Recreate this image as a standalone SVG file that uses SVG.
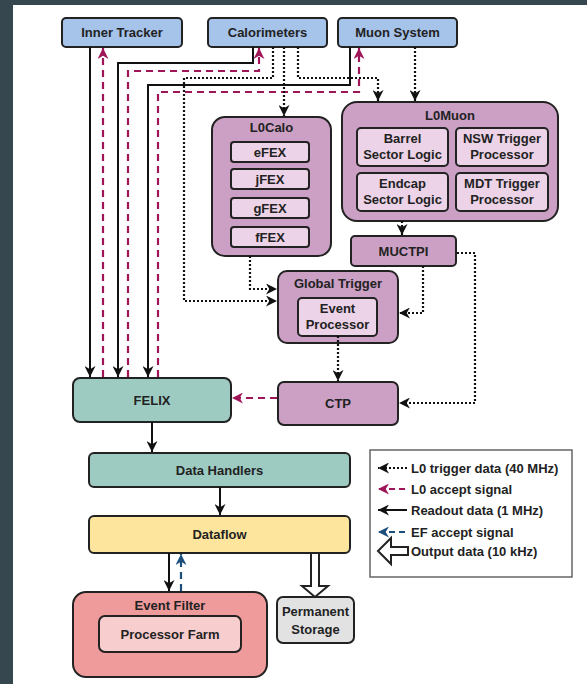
<svg xmlns="http://www.w3.org/2000/svg" width="587" height="684" viewBox="0 0 587 684">
<defs>
<style>
.t{font-family:"Liberation Sans",Arial,sans-serif;font-weight:bold;font-size:13px;fill:#222;text-anchor:middle}
.lt{font-family:"Liberation Sans",Arial,sans-serif;font-weight:bold;font-size:13px;fill:#222}
.box{stroke:#222;stroke-width:2}
.blue{fill:#a6c3ea}
.mauve{fill:#cba0c4}
.sub{fill:#ecd3e7}
.teal{fill:#9dcbc2}
.ro{fill:none;stroke:#111;stroke-width:2}
.acc{fill:none;stroke:#a01558;stroke-width:2.2;stroke-dasharray:7 5}
.trg{fill:none;stroke:#111;stroke-width:2.2;stroke-dasharray:2 2}
.ef{fill:none;stroke:#1d4f7c;stroke-width:2.2;stroke-dasharray:7 5}
</style>
<marker id="ak" viewBox="0 0 10 10" refX="10" refY="5" markerWidth="11" markerHeight="11" markerUnits="userSpaceOnUse" orient="auto"><path d="M0,0 L10,5 L0,10 L3,5 z" fill="#111"/></marker>
<marker id="am" viewBox="0 0 10 10" refX="10" refY="5" markerWidth="11" markerHeight="11" markerUnits="userSpaceOnUse" orient="auto"><path d="M0,0 L10,5 L0,10 L3,5 z" fill="#a01558"/></marker>
<marker id="ab" viewBox="0 0 10 10" refX="10" refY="5" markerWidth="11" markerHeight="11" markerUnits="userSpaceOnUse" orient="auto"><path d="M0,0 L10,5 L0,10 L3,5 z" fill="#1d4f7c"/></marker>
</defs>
<rect x="0" y="0" width="587" height="684" fill="#ffffff"/>
<rect x="0" y="0" width="587" height="5" fill="#37474f"/>
<rect x="0" y="0" width="13" height="684" fill="#37474f"/>

<g id="inner-tracker"><rect class="box blue" x="62" y="18" width="120" height="29" rx="4"/><text class="t" x="122" y="37">Inner Tracker</text></g>
<g id="calorimeters"><rect class="box blue" x="208" y="18" width="119" height="29" rx="4"/><text class="t" x="267.5" y="37">Calorimeters</text></g>
<g id="muon-system"><rect class="box blue" x="338" y="18" width="119" height="29" rx="4"/><text class="t" x="397.5" y="37">Muon System</text></g>

<g id="l0calo"><rect class="box mauve" x="212" y="117" width="119" height="139" rx="13"/><text class="t" x="271.5" y="132">L0Calo</text>
<rect class="box sub" x="231" y="142" width="78" height="20" rx="3"/><text class="t" x="270" y="157">eFEX</text>
<rect class="box sub" x="231" y="169" width="78" height="20" rx="3"/><text class="t" x="270" y="184">jFEX</text>
<rect class="box sub" x="231" y="198" width="78" height="20" rx="3"/><text class="t" x="270" y="213">gFEX</text>
<rect class="box sub" x="231" y="227" width="78" height="20" rx="3"/><text class="t" x="270" y="242">fFEX</text></g>

<g id="l0muon"><rect class="box mauve" x="342" y="102" width="216" height="119" rx="15"/><text class="t" x="450" y="120">L0Muon</text>
<rect class="box sub" x="357" y="128" width="91" height="38" rx="4"/><text class="t" x="402.5" y="143">Barrel</text><text class="t" x="402.5" y="159">Sector Logic</text>
<rect class="box sub" x="456" y="128" width="92" height="38" rx="4"/><text class="t" x="502" y="143">NSW Trigger</text><text class="t" x="502" y="159">Processor</text>
<rect class="box sub" x="357" y="173" width="91" height="38" rx="4"/><text class="t" x="402.5" y="188">Endcap</text><text class="t" x="402.5" y="204">Sector Logic</text>
<rect class="box sub" x="456" y="173" width="92" height="38" rx="4"/><text class="t" x="502" y="188">MDT Trigger</text><text class="t" x="502" y="204">Processor</text></g>

<g id="muctpi"><rect class="box mauve" x="351" y="236" width="105" height="30" rx="4"/><text class="t" x="403.5" y="255.5">MUCTPI</text></g>

<g id="global-trigger"><rect class="box mauve" x="278" y="271" width="120" height="72" rx="9"/><text class="t" x="338" y="288">Global Trigger</text>
<rect class="box sub" x="298" y="298" width="79" height="38" rx="4"/><text class="t" x="337.5" y="313">Event</text><text class="t" x="337.5" y="329">Processor</text></g>

<g id="ctp"><rect class="box mauve" x="278" y="382" width="120" height="43" rx="6"/><text class="t" x="338" y="408">CTP</text></g>

<g id="felix"><rect class="box teal" x="73" y="378" width="158" height="44" rx="7"/><text class="t" x="152" y="404.5">FELIX</text></g>
<g id="data-handlers"><rect class="box teal" x="89" y="453" width="261" height="34" rx="5"/><text class="t" x="219.5" y="474.5">Data Handlers</text></g>
<g id="dataflow"><rect class="box" fill="#fde59e" x="89" y="516" width="261" height="37" rx="5"/><text class="t" x="219.5" y="539">Dataflow</text></g>
<g id="event-filter"><rect class="box" fill="#f09b9b" x="73" y="592" width="194" height="85" rx="13"/><text class="t" x="170" y="610">Event Filter</text>
<rect class="box" fill="#f8cdcd" x="99" y="616" width="142" height="36" rx="6"/><text class="t" x="170" y="638.5">Processor Farm</text></g>
<g id="permanent-storage"><rect class="box" fill="#e2e2e2" x="277" y="597" width="77" height="46" rx="6"/><text class="t" x="315.5" y="616">Permanent</text><text class="t" x="315.5" y="634">Storage</text></g>

<g id="connectors">
<path class="ro" d="M90,47 V377" marker-end="url(#ak)"/>
<path class="ro" d="M253,47 V63 H118 V377" marker-end="url(#ak)"/>
<path class="ro" d="M350,47 V85 H148 V377" marker-end="url(#ak)"/>
<path class="acc" d="M103,377 V48" marker-end="url(#am)"/>
<path class="acc" d="M128,377 V71 H259 V48" marker-end="url(#am)"/>
<path class="acc" d="M158,377 V92 H359 V48" marker-end="url(#am)"/>
<path class="acc" d="M277,398 H232" marker-end="url(#am)"/>
<path class="trg" d="M273,47 V78 H184 V301 H277" marker-end="url(#ak)"/>
<path class="trg" d="M284,47 V116" marker-end="url(#ak)"/>
<path class="trg" d="M298,47 V78 H378 V101" marker-end="url(#ak)"/>
<path class="trg" d="M415,47 V101" marker-end="url(#ak)"/>
<path class="trg" d="M402,221 V235" marker-end="url(#ak)"/>
<path class="trg" d="M250,256 V289 H277" marker-end="url(#ak)"/>
<path class="trg" d="M423,266 V313 H399" marker-end="url(#ak)"/>
<path class="trg" d="M457,253 H475 V403 H399" marker-end="url(#ak)"/>
<path class="trg" d="M338,336 V381" marker-end="url(#ak)"/>
<path class="ro" d="M152,422 V452" marker-end="url(#ak)"/>
<path class="ro" d="M220,487 V515" marker-end="url(#ak)"/>
<path class="ro" d="M169,553 V591" marker-end="url(#ak)"/>
<path class="ef" d="M181,591 V554" marker-end="url(#ab)"/>
<path d="M311,554 V586 H302 L315,597 L328,586 H319 V554" fill="#fff" stroke="#222" stroke-width="2" stroke-linejoin="miter"/>
</g>

<g id="legend">
<rect x="370" y="450" width="202" height="127" fill="#fff" stroke="#666" stroke-width="1.5"/>
<path class="trg" d="M407,468 H378" marker-end="url(#ak)"/>
<text class="lt" x="411" y="472.5">L0 trigger data (40 MHz)</text>
<path class="acc" style="stroke-dasharray:6 4" d="M405,489 H378" marker-end="url(#am)"/>
<text class="lt" x="411" y="493.5">L0 accept signal</text>
<path class="ro" d="M407,510 H378" marker-end="url(#ak)"/>
<text class="lt" x="411" y="514.5">Readout data (1 MHz)</text>
<path class="ef" style="stroke-dasharray:6 4" d="M405,532 H378" marker-end="url(#ab)"/>
<text class="lt" x="411" y="536.5">EF accept signal</text>
<path d="M408,547 H391 V538 L378,551 L391,564 V555 H408 Z" fill="#fff" stroke="#222" stroke-width="2"/>
<text class="lt" x="411" y="555.5">Output data (10 kHz)</text>
</g>
</svg>
